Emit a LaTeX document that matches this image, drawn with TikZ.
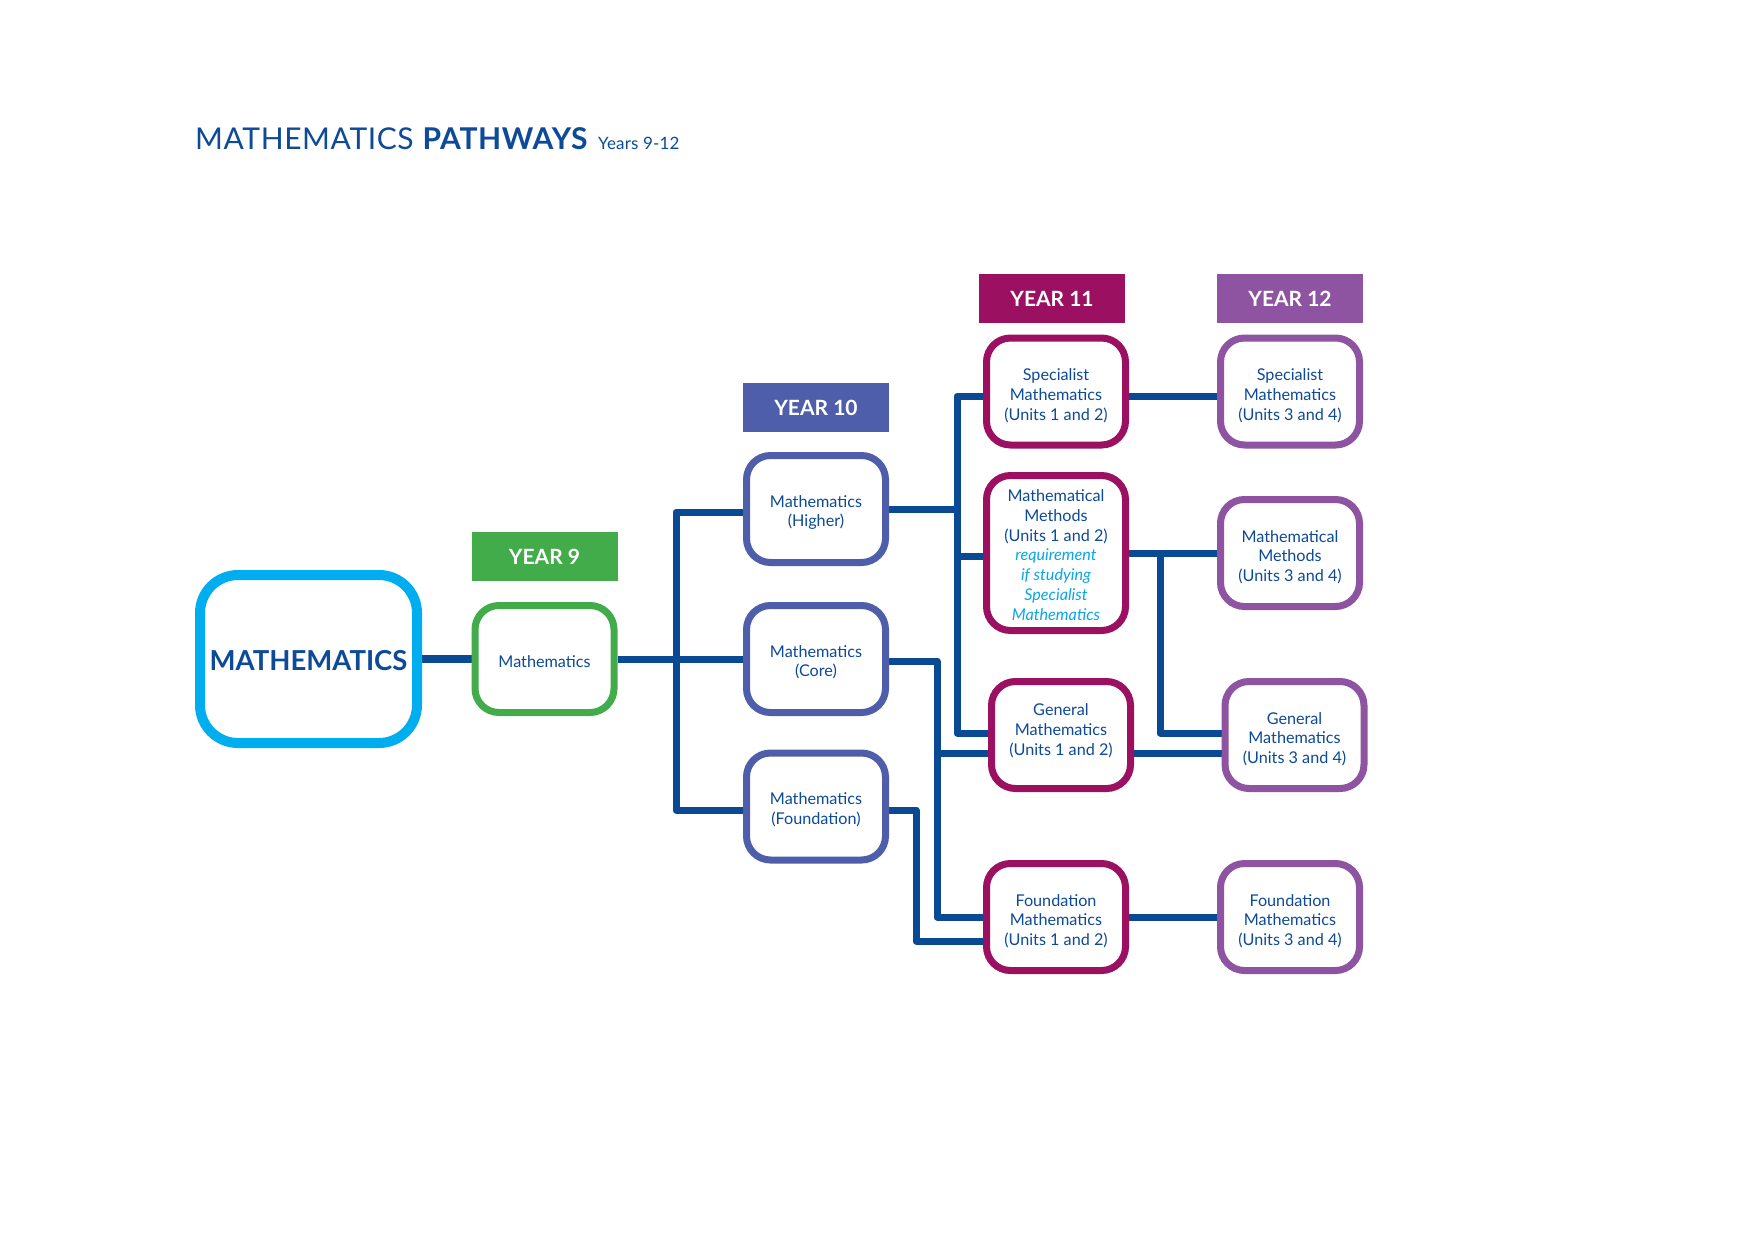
\documentclass[tikz,border=0pt]{standalone}
\usepackage{fontspec}
\setmainfont{Lato}
\usetikzlibrary{calc}
\definecolor{cyanm}{HTML}{00AEEF}
\definecolor{greenm}{HTML}{43AC4A}
\definecolor{yten}{HTML}{4F5EAA}
\definecolor{yeleven}{HTML}{9B1060}
\definecolor{ytwelve}{HTML}{8E54A2}
\definecolor{lineblue}{HTML}{0A4A94}
\definecolor{textblue}{HTML}{0D4A97}
\definecolor{itcyan}{HTML}{0AA6E6}
\pgfdeclarelayer{bg}
\pgfsetlayers{bg,main}
\tikzset{
  conn/.style={draw=lineblue, line width=7pt, line join=round},
  rbox/.style={draw, fill=white, line width=7pt, rounded corners=24pt,
    minimum width=139pt, minimum height=107pt, inner sep=0pt,
    font=\fontsize{16.2}{19.8}\selectfont, text=textblue},
  bigbox/.style={draw=cyanm, fill=white, line width=10pt, rounded corners=38pt,
    minimum width=217pt, minimum height=168pt, inner sep=0pt,
    font=\fontsize{27.5}{29}\selectfont\bfseries, text=textblue},
  hdr/.style={minimum width=146pt, minimum height=49pt, inner sep=0pt,
    text=white, font=\fontsize{21}{22}\selectfont\bfseries}
}
\newcommand{\itc}[1]{\textcolor{itcyan}{\itshape #1}}
\newcommand{\bt}[2][-5pt]{\raisebox{#1}[\height][\depth]{\begin{tabular}{@{}c@{}}#2\end{tabular}}}
\begin{document}
\begin{tikzpicture}[x=1pt,y=-1pt]
\useasboundingbox (0,0) rectangle (1754,1240);
\begin{pgfonlayer}{bg}
\fill[white] (0,0) rectangle (1754,1240);
\end{pgfonlayer}

% title
\node[anchor=base west, inner sep=0pt, text=textblue] (title) at (195,149)
  {{\fontsize{30}{31}\selectfont\addfontfeatures{LetterSpace=2}MATHEMATICS \textbf{PATHWAYS}}\hspace{10pt}{\fontsize{17}{18}\selectfont\addfontfeatures{LetterSpace=1.2}Years 9-12}};

% headers
\node[hdr, fill=greenm] (h9) at (544.5,556.5) {YEAR 9};
\node[hdr, fill=yten] (h10) at (816,407.5) {YEAR 10};
\node[hdr, fill=yeleven] (h11) at (1052,298.5) {YEAR 11};
\node[hdr, fill=ytwelve] (h12) at (1290,298.5) {YEAR 12};

% boxes
\node[bigbox, execute at begin node={\rule{0pt}{24pt}}] (mathbox) at (308.5,659) {MATHEMATICS};
\node[rbox, draw=greenm] (y9) at (544.5,659) {\bt[-4.5pt]{Mathematics}};
\node[rbox, draw=yten] (higher) at (816,509) {\bt[-4pt]{Mathematics\\(Higher)}};
\node[rbox, draw=yten] (core) at (816,659) {\bt[-4pt]{Mathematics\\(Core)}};
\node[rbox, draw=yten] (found10) at (816,806.5) {\bt[-4pt]{Mathematics\\(Foundation)}};
\node[rbox, draw=yeleven] (spec11) at (1056,391.5) {\bt{Specialist\\Mathematics\\(Units 1 and 2)}};
\node[rbox, draw=yeleven, minimum height=155pt] (mm11) at (1056,553)
  {\bt[-4pt]{Mathematical\\Methods\\(Units 1 and 2)\\\itc{requirement}\\\itc{if studying}\\\itc{Specialist}\\\itc{Mathematics}}};
\node[rbox, draw=yeleven] (gen11) at (1061,735) {\bt[3.5pt]{General\\Mathematics\\(Units 1 and 2)}};
\node[rbox, draw=yeleven] (found11) at (1056,917) {\bt{Foundation\\Mathematics\\(Units 1 and 2)}};
\node[rbox, draw=ytwelve] (spec12) at (1290,391.5) {\bt{Specialist\\Mathematics\\(Units 3 and 4)}};
\node[rbox, draw=ytwelve] (mm12) at (1290,553) {\bt{Mathematical\\Methods\\(Units 3 and 4)}};
\node[rbox, draw=ytwelve] (gen12) at (1294.5,735) {\bt{General\\Mathematics\\(Units 3 and 4)}};
\node[rbox, draw=ytwelve] (found12) at (1290,917) {\bt{Foundation\\Mathematics\\(Units 3 and 4)}};

% junction coordinates
\coordinate (tA) at (676,512);
\coordinate (tB) at (676,810);
\coordinate (hA) at (957,396);
\coordinate (hM) at (957,556);
\coordinate (hB) at (957,733);
\coordinate (cA) at (937,661);
\coordinate (cM) at (937,753);
\coordinate (cB) at (937,917);
\coordinate (fA) at (916,810);
\coordinate (fB) at (916,941);
\coordinate (mA) at (1160,553);
\coordinate (mB) at (1160,733);

\begin{pgfonlayer}{bg}
\draw[conn, line width=8pt] (mathbox.east) -- (y9.west);
\draw[conn] (y9.east) -- (core.west);
\draw[conn] (higher.west |- tA) -- (tA) -- (tB) -- (found10.west |- tB);
\draw[conn] (spec11.west |- hA) -- (hA) -- (hB) -- (gen11.west |- hB);
\draw[conn] (higher.east) -- (higher.east -| hA);
\draw[conn] (hM) -- (mm11.west |- hM);
\draw[conn] (core.east |- cA) -- (cA) -- (cB) -- (found11.west |- cB);
\draw[conn] (cM) -- (gen11.west |- cM);
\draw[conn] (found10.east |- fA) -- (fA) -- (fB) -- (found11.west |- fB);
\draw[conn] (spec11.east |- hA) -- (spec12.west |- hA);
\draw[conn] (mm11.east) -- (mm12.west);
\draw[conn] (mA) -- (mB) -- (gen12.west |- mB);
\draw[conn] (gen11.east |- cM) -- (gen12.west |- cM);
\draw[conn] (found11.east) -- (found12.west);
\end{pgfonlayer}
\end{tikzpicture}
\end{document}
